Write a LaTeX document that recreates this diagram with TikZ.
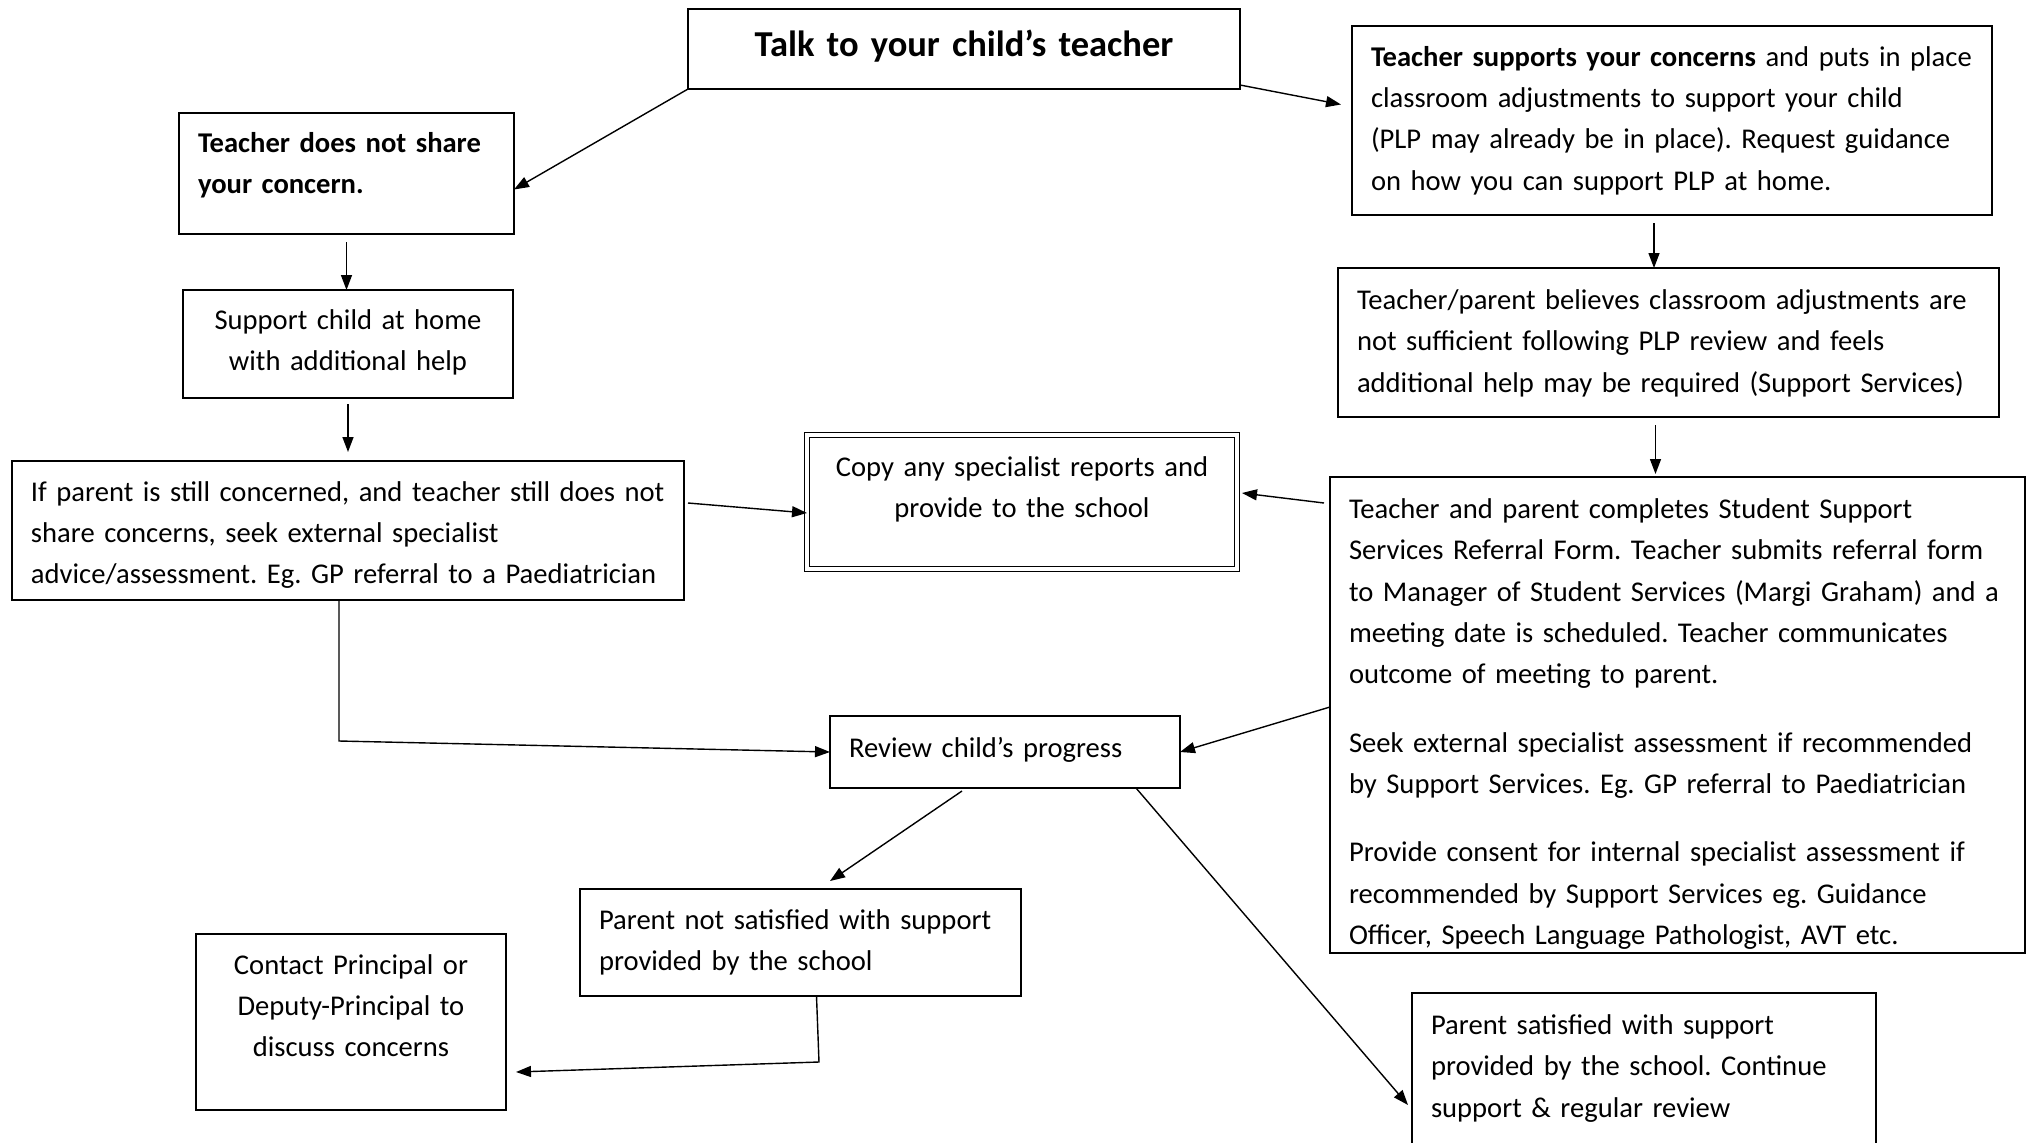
\documentclass[tikz,border=0pt]{standalone}
\usepackage{fontspec}
\setmainfont{Carlito}
\frenchspacing
\usetikzlibrary{arrows.meta}
\usepackage{xcolor}
\definecolor{flowInk}{HTML}{000000}
\tikzset{
    stepbox/.style={rectangle, draw=flowInk, line width=0.9pt, anchor=north west, inner xsep=9.5pt, inner ysep=0pt, outer sep=0pt, align=left, font=\fontsize{14.3}{20.6}\selectfont},
    titlebox/.style={stepbox, align=center, font=\fontsize{18.25}{22}\selectfont\bfseries},
    copybox/.style={stepbox, line width=0.6pt, double, double distance=1.6pt, align=center},
    arrow/.style={-{Triangle[length=7.5pt, width=5.5pt]}, line width=0.7pt, draw=flowInk},
}

\begin{document}
\begin{tikzpicture}[x=0.5pt, y=-0.5pt]
    \useasboundingbox (0,0) rectangle (2031,1142);

    \node[titlebox, text width=257pt, text height=23.8pt, text depth=16.2pt] (talk) at (688,9) {Talk to your child's teacher};
    \node[stepbox, text width=301pt, text height=20.2pt, text depth=74.3pt] (supports) at (1352,26) {\textbf{Teacher supports your concerns} and puts in place\\ classroom adjustments to support your child\\ (PLP may already be in place). Request guidance\\ on how you can support PLP at home.};
    \node[stepbox, text width=148.5pt, text height=19.55pt, text depth=40.95pt] (notshare) at (179,113) {\bfseries Teacher does not share\\ your concern.};
    \node[stepbox, align=center, text width=146pt, text height=19.55pt, text depth=34.45pt] (home) at (183,290) {Support child at home\\ with additional help};
    \node[stepbox, text width=317pt, text height=20.2pt, text depth=49.3pt] (ifparent) at (12,461) {If parent is still concerned, and teacher still does not\\ share concerns, seek external specialist\\ advice/assessment. Eg. GP referral to a Paediatrician};
    \node[copybox, text width=196pt, text height=20.8pt, text depth=46.2pt] (copy) at (807,435) {Copy any specialist reports and\\ provide to the school};
    \node[stepbox, text width=311.5pt, text height=20.8pt, text depth=53.7pt] (believes) at (1338,268) {Teacher/parent believes classroom adjustments are\\ not sufficient following PLP review and feels\\ additional help may be required (Support Services)};
    \node[stepbox, text width=328.5pt, text height=20.8pt, text depth=217.2pt] (completes) at (1330,477) {Teacher and parent completes Student Support\\ Services Referral Form. Teacher submits referral form\\ to Manager of Student Services (Margi Graham) and a\\ meeting date is scheduled. Teacher communicates\\ outcome of meeting to parent.\\[13.7pt] Seek external specialist assessment if recommended\\ by Support Services. Eg. GP referral to Paediatrician\\[13.7pt] Provide consent for internal specialist assessment if\\ recommended by Support Services eg. Guidance\\ Officer, Speech Language Pathologist, AVT etc.};
    \node[stepbox, text width=156pt, text height=20.85pt, text depth=15.15pt] (review) at (830,716) {Review child's progress};
    \node[stepbox, text width=201.5pt, text height=20.2pt, text depth=33.3pt] (notsat) at (580,889) {Parent not satisfied with support\\ provided by the school};
    \node[stepbox, align=center, text width=136pt, text height=20.2pt, text depth=67.8pt] (contact) at (196,934) {Contact Principal or\\ Deputy-Principal to\\ discuss concerns};
    \node[stepbox, text width=213pt, text height=20.8pt, text depth=59.2pt] (satisfied) at (1412,993) {Parent satisfied with support\\ provided by the school. Continue\\ support \& regular review};

    \coordinate (reviewBend) at (339,741);
    \coordinate (contactBend) at (819,1062);

    \draw[arrow] (talk.south west) -- ([yshift=-8pt]notshare.east);
    \draw[arrow] ([yshift=2pt]talk.south east) -- ([xshift=-5.5pt,yshift=8pt]supports.west);
    \draw[arrow] ([yshift=-4pt]notshare.south) -- (notshare.south |- home.north);
    \draw[arrow] ([yshift=-3pt]home.south) -- ([yshift=4.5pt]home.south |- ifparent.north);
    \draw[arrow] ([xshift=-9pt,yshift=-4pt]supports.south) -- ([xshift=-9pt]supports.south |- believes.north);
    \draw[arrow] ([xshift=-6.5pt,yshift=-4pt]believes.south) -- ([xshift=-6.5pt,yshift=1.5pt]believes.south |- completes.north);
    \draw[arrow] ([xshift=2pt,yshift=13.75pt]ifparent.east) -- ([yshift=-5.5pt]copy.west);
    \draw[arrow] ([xshift=-3pt,yshift=-13pt]completes.north west) -- ([xshift=2.5pt,yshift=4.5pt]copy.east);
    \draw[arrow] ([xshift=-4.5pt]ifparent.south) -- (reviewBend) -- (review.west);
    \draw[arrow] ([yshift=4pt]completes.west) -- (review.east);
    \draw[arrow] ([xshift=-21.5pt,yshift=-1.5pt]review.south) -- ([xshift=14.75pt,yshift=4pt]notsat.north);
    \draw[arrow] ([xshift=-22pt]review.south east) -- ([xshift=-2pt,yshift=-56pt]satisfied.north west);
    \draw[arrow] ([xshift=8pt]notsat.south) -- (contactBend) -- ([xshift=5pt,yshift=-25pt]contact.east);
\end{tikzpicture}
\end{document}
